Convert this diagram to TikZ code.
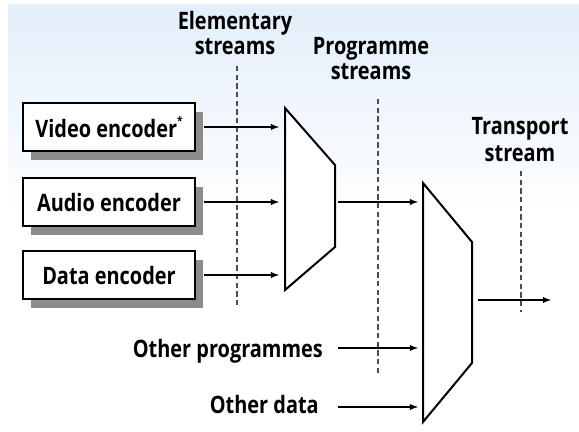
\documentclass[tikz,border=0pt]{standalone}
\usepackage{fontspec}
\setmainfont{Open Sans}[FakeStretch=0.83]
\usetikzlibrary{shadows}
\definecolor{skyblue}{RGB}{226,238,250}

\begin{document}
\begin{tikzpicture}[x=0.75pt, y=-0.75pt, >=latex,
  enc/.style={draw, rectangle, line width=1.5pt, fill=white, minimum width=129pt, minimum height=36pt,
    font=\bfseries\fontsize{18}{18}\selectfont,
    drop shadow={fill=black!45, opacity=1, shadow xshift=6pt, shadow yshift=-7pt}},
  lbl/.style={font=\bfseries\fontsize{18}{19}\selectfont, align=center, inner sep=0pt},
  feed/.style={->, line width=1.1pt},
  mux/.style={draw, line width=1.5pt, fill=white, line join=miter},
  muxshade/.style={fill=black!45},
  level/.style={dash pattern=on 4pt off 2.5pt, black!70, line width=0.8pt}]
\useasboundingbox (0,0) rectangle (579,432);
\fill[white] (0,0) rectangle (579,432);
\shade[top color=skyblue, bottom color=white] (8,4) rectangle (579,215);

% stream levels
\node[lbl, anchor=south] (elem) at (235,55) {Elementary\\streams};
\node[lbl, anchor=south] (prog) at (371,80) {Programme\\streams};
\node[lbl, anchor=south, font=\bfseries\fontsize{18}{20}\selectfont] (trans) at (520,162) {Transport\\stream};
\coordinate (elemtop) at (237,66);
\coordinate (elembot) at (237,305);
\coordinate (progtop) at (378,99);
\coordinate (progbot) at (378,376);
\coordinate (transtop) at (521,171);
\coordinate (transbot) at (521,312);
\draw[level] (elemtop) -- (elembot);
\draw[level] (progtop) -- (progbot);
\draw[level] (transtop) -- (transbot);

% encoders
\node[enc] (video) at (109,127) {Video encoder\raisebox{0.9ex}{\fontsize{9}{9}\selectfont*}};
\node[enc] (audio) at (109,202) {Audio encoder};
\node[enc] (data) at (109,275) {Data encoder};

% programme multiplexer
\coordinate (m1tl) at (285,108);
\coordinate (m1tr) at (335,165);
\coordinate (m1br) at (335,247);
\coordinate (m1bl) at (285,290);
\fill[muxshade, shift={(8,8)}] (m1tl) -- (m1tr) -- (m1br) -- (m1bl) -- cycle;
\draw[mux] (m1tl) -- (m1tr) -- (m1br) -- (m1bl) -- cycle;

% transport multiplexer
\coordinate (m2tl) at (423,183);
\coordinate (m2tr) at (472,242);
\coordinate (m2br) at (472,363);
\coordinate (m2bl) at (423,422);
\fill[muxshade, shift={(8,8)}] (m2tl) -- (m2tr) -- (m2br) -- (m2bl) -- cycle;
\draw[mux] (m2tl) -- (m2tr) -- (m2br) -- (m2bl) -- cycle;

% other inputs
\node[lbl, anchor=base east] (otherprog) at (323,357) {Other programmes};
\node[lbl, anchor=base east] (otherdata) at (319,413) {Other data};

\coordinate (in1) at (279,127);
\coordinate (in2) at (279,202);
\coordinate (in3) at (279,275);
\coordinate (p1out) at (338,202);
\coordinate (p1in) at (418,202);
\coordinate (opin) at (418,348);
\coordinate (odin) at (418,407);
\coordinate (tout) at (478,300);
\coordinate (tend) at (551,300);

\draw[feed] ([xshift=11pt]otherprog.east |- opin) -- (opin);
\draw[feed] ([xshift=14pt]otherdata.east |- odin) -- (odin);
\draw[feed] ([xshift=6pt]video.east) -- (in1);
\draw[feed] ([xshift=6pt]audio.east) -- (in2);
\draw[feed] ([xshift=6pt]data.east) -- (in3);
\draw[feed] (p1out) -- (p1in);
\draw[feed] (tout) -- (tend);
\end{tikzpicture}
\end{document}
